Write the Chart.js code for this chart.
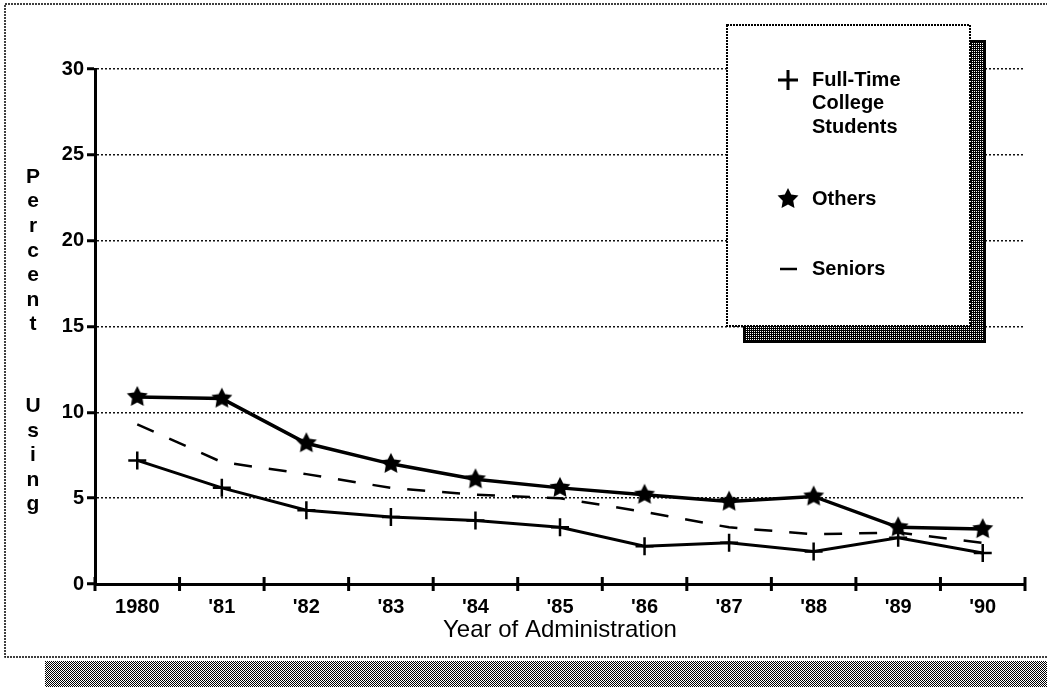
<!DOCTYPE html>
<html>
<head>
<meta charset="utf-8">
<script src="https://cdn.jsdelivr.net/npm/chart.js@4.4.1/dist/chart.umd.min.js"></script>
<style>
    body { margin: 0; background: #fff; }
    canvas { display: block; }
</style>
</head>
<body>
<canvas id="graficoUso" width="1047" height="687"></canvas>
<script>
// dados
const years = ['1980', "'81", "'82", "'83", "'84", "'85", "'86", "'87", "'88", "'89", "'90"];
const fullTime = [7.2, 5.6, 4.3, 3.9, 3.7, 3.3, 2.2, 2.4, 1.9, 2.7, 1.8];
const others = [10.9, 10.8, 8.2, 7.0, 6.1, 5.6, 5.2, 4.8, 5.1, 3.3, 3.2];
const seniors = [9.3, 7.1, 6.4, 5.6, 5.2, 5.0, 4.2, 3.3, 2.9, 3.0, 2.4];
const yTicks = [0, 5, 10, 15, 20, 25, 30];
const legendLabels = [['Full-Time', 'College', 'Students'], ['Others'], ['Seniors']];
const yTitle = 'Percent Using';
const xTitle = 'Year of Administration';

const FONT = '"Liberation Sans", Arial, Helvetica, sans-serif';

// padrão de meio-tom para as sombras
function halftone(dark) {
    const c = document.createElement('canvas');
    c.width = 2; c.height = 2;
    const g = c.getContext('2d');
    g.fillStyle = '#fff';
    g.fillRect(0, 0, 2, 2);
    g.fillStyle = '#000';
    g.fillRect(0, 0, 1, 1);
    g.fillRect(1, 1, 1, 1);
    if (dark) g.fillRect(1, 0, 1, 1);
    return c;
}

function makeStar(r) {
    const c = document.createElement('canvas');
    c.width = c.height = r * 2 + 4;
    const g = c.getContext('2d');
    g.translate(r + 2, r + 2);
    g.beginPath();
    for (let i = 0; i < 10; i++) {
        const rad = i % 2 ? r * 0.5 : r;
        const a = -Math.PI / 2 + i * Math.PI / 5;
        g.lineTo(rad * Math.cos(a), rad * Math.sin(a));
    }
    g.closePath();
    g.fillStyle = '#000';
    g.fill();
    return c;
}
const starImg = makeStar(11);

function drawPlus(ctx, x, y, s) {
    ctx.beginPath();
    ctx.moveTo(x - s, y); ctx.lineTo(x + s, y);
    ctx.moveTo(x, y - s); ctx.lineTo(x, y + s);
    ctx.stroke();
}

const framePlugin = {
    id: 'frame',
    beforeDraw(chart) {
        const ctx = chart.ctx;
        ctx.save();
        ctx.fillStyle = '#fff';
        ctx.fillRect(0, 0, chart.width, chart.height);
        // moldura pontilhada
        ctx.strokeStyle = '#000';
        ctx.lineWidth = 1.5;
        ctx.setLineDash([2, 1]);
        ctx.strokeRect(5, 4, chart.width + 10, 653);
        ctx.setLineDash([]);
        // sombra inferior
        ctx.fillStyle = ctx.createPattern(halftone(false), 'repeat');
        ctx.fillRect(45, 661, chart.width - 45, chart.height - 661);
        ctx.restore();
    },
    afterDraw(chart) {
        const ctx = chart.ctx;
        const xs = chart.scales.x;
        ctx.save();

        // marcas do eixo x, entre as categorias
        const step = xs.getPixelForValue(1) - xs.getPixelForValue(0);
        ctx.strokeStyle = '#000';
        ctx.lineWidth = 3;
        for (let i = 0; i <= years.length; i++) {
            const x = xs.getPixelForValue(0) - step / 2 + i * step;
            ctx.beginPath();
            ctx.moveTo(x, xs.top - 7);
            ctx.lineTo(x, xs.top + 7);
            ctx.stroke();
        }

        // título do eixo y, letra por letra
        ctx.fillStyle = '#000';
        ctx.font = 'bold 21px ' + FONT;
        ctx.textAlign = 'center';
        ctx.textBaseline = 'middle';
        let y = 177;
        for (const ch of yTitle) {
            if (ch === ' ') { y += 57; continue; }
            ctx.fillText(ch, 33, y);
            y += 24.6;
        }

        // legenda
        ctx.fillStyle = ctx.createPattern(halftone(true), 'repeat');
        ctx.fillRect(744, 41, 241, 301);
        ctx.strokeStyle = '#000';
        ctx.lineWidth = 2;
        ctx.strokeRect(744, 41, 241, 301);
        ctx.fillStyle = '#fff';
        ctx.fillRect(727, 25, 243, 301);
        ctx.setLineDash([2, 1]);
        ctx.strokeRect(727, 25, 243, 301);
        ctx.setLineDash([]);

        ctx.fillStyle = '#000';
        ctx.font = 'bold 20px ' + FONT;
        ctx.textAlign = 'left';
        const rows = [80, 199, 269];
        ctx.lineWidth = 3;
        drawPlus(ctx, 788, rows[0], 10);
        ctx.drawImage(starImg, 788 - starImg.width / 2, rows[1] - starImg.height / 2);
        ctx.lineWidth = 2.5;
        ctx.beginPath();
        ctx.moveTo(780, rows[2]); ctx.lineTo(797, rows[2]);
        ctx.stroke();
        legendLabels.forEach((lines, i) => {
            lines.forEach((t, j) => ctx.fillText(t, 812, rows[i] + j * 23.5));
        });
        ctx.restore();
    }
};

const ctx = document.getElementById('graficoUso').getContext('2d');
new Chart(ctx, {
    type: 'line',
    data: {
        labels: years,
        datasets: [
            {
                label: legendLabels[0].join(' '),
                data: fullTime,
                borderColor: '#000',
                borderWidth: 3,
                pointStyle: 'cross',
                pointRadius: 9,
                pointBorderWidth: 2.5,
                pointBorderColor: '#000',
                fill: false,
                tension: 0
            },
            {
                label: legendLabels[1].join(' '),
                data: others,
                borderColor: '#000',
                borderWidth: 3.5,
                pointStyle: starImg,
                pointRadius: 11,
                fill: false,
                tension: 0
            },
            {
                label: legendLabels[2].join(' '),
                data: seniors,
                borderColor: '#000',
                borderWidth: 2.5,
                borderDash: [18, 17],
                pointRadius: 0,
                fill: false,
                tension: 0
            }
        ]
    },
    options: {
        responsive: false,
        animation: false,
        layout: { padding: { top: 69, right: 22, left: 0, bottom: 0 } },
        plugins: {
            legend: { display: false },
            tooltip: { enabled: false }
        },
        scales: {
            x: {
                type: 'category',
                offset: true,
                afterFit: (s) => { s.height = 103; },
                grid: { display: false },
                border: { display: true, color: '#000', width: 3 },
                ticks: {
                    color: '#000',
                    padding: 3,
                    maxRotation: 0,
                    font: { family: FONT, size: 20, weight: 'bold' }
                },
                title: {
                    display: true,
                    text: xTitle,
                    color: '#000',
                    font: { family: FONT, size: 24 },
                    padding: { top: 0, bottom: 42 }
                }
            },
            y: {
                min: 0,
                max: 30,
                afterFit: (s) => { s.width = 95; },
                afterBuildTicks: (s) => { s.ticks = yTicks.map(v => ({ value: v })); },
                border: { display: true, color: '#000', width: 3, dash: [2, 2] },
                grid: {
                    color: (c) => c.tick && c.tick.value === 0 ? 'rgba(0,0,0,0)' : '#111',
                    lineWidth: 1.5,
                    tickColor: '#000',
                    tickWidth: 3,
                    tickLength: 8
                },
                ticks: {
                    color: '#000',
                    padding: 3,
                    font: { family: FONT, size: 20, weight: 'bold' }
                }
            }
        }
    },
    plugins: [framePlugin]
});
</script>
</body>
</html>
